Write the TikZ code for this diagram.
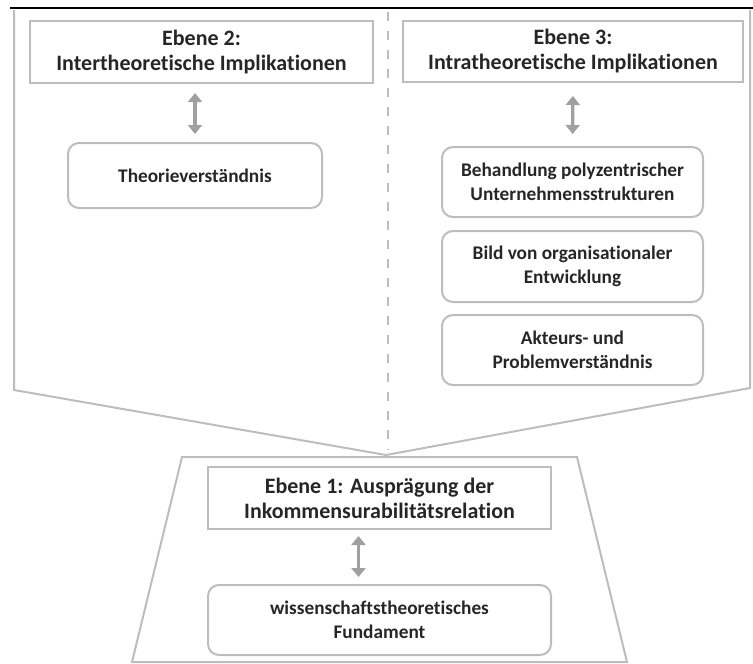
\documentclass[tikz,border=0pt]{standalone}
\usepackage{fontspec}
\setmainfont{Carlito}[Ligatures=CommonOff]
\usetikzlibrary{arrows.meta}
\definecolor{rahmen}{HTML}{BDBDBD}
\definecolor{schrift}{HTML}{262626}
\definecolor{pfeil}{HTML}{A0A0A0}
\tikzset{
  ebene/.style={draw=rahmen, line width=2pt, text=schrift, align=center, inner sep=0pt,
    font=\bfseries\fontsize{22}{25}\selectfont, minimum width=343pt, minimum height=62pt},
  thema/.style={draw=rahmen, line width=2pt, rounded corners=11pt, text=schrift, align=center, inner sep=0pt,
    font=\bfseries\fontsize{19.3}{23.5}\selectfont, minimum width=261pt, minimum height=70pt},
  wechsel/.style={draw=pfeil, line width=3.2pt, {Triangle[width=14pt,length=9pt]}-{Triangle[width=14pt,length=9pt]}},
  kontur/.style={draw=rahmen, line width=2pt}
}

\begin{document}
\begin{tikzpicture}[x=1pt,y=-1pt]
	\useasboundingbox (0,0) rectangle (753,664);
	% Linien
	\draw[black, line width=1.8pt] (10,8) -- (753,8);
	\draw[rahmen, line width=2pt, dash pattern=on 9pt off 10pt] (388,12) -- (388,450);
	\draw[kontur] (14,10) -- (14,390) -- (386,455) -- (750,388) -- (750,10);
	\draw[kontur] (182,457) -- (577,457) -- (627,662) -- (132,662) -- cycle;
	% Ebene 2
	\node[ebene] (ebzwei) at (201.5,52) {Ebene 2:\\Intertheoretische Implikationen};
	\node[thema, minimum width=254pt, minimum height=65pt] (theorie) at (195,175.5) {Theorieverständnis};
	\draw[wechsel, shorten <=9pt, shorten >=8pt] (ebzwei.south -| theorie.north) -- (theorie.north);
	% Ebene 3
	\node[ebene, minimum width=340pt, minimum height=61pt] (ebdrei) at (573,51.5) {Ebene 3:\\Intratheoretische Implikationen};
	\node[thema] (behandlung) at (572.5,182) {Behandlung polyzentrischer\\Unternehmensstrukturen};
	\node[thema, minimum height=71pt] (bild) at (572.5,266.5) {Bild von organisationaler\\Entwicklung};
	\node[thema] (akteure) at (572.5,350) {Akteurs- und\\Problemverständnis};
	\draw[wechsel, shorten <=13pt, shorten >=12pt] (ebdrei.south) -- (behandlung.north);
	% Ebene 1
	\node[ebene] (ebeins) at (379.5,498) {Ebene 1: Ausprägung der\\Inkommensurabilitätsrelation};
	\node[thema, minimum width=343pt] (fundament) at (379.5,620) {wissenschaftstheoretisches\\Fundament};
	\draw[wechsel, shorten <=6pt, shorten >=7pt] ([xshift=-21pt]ebeins.south) -- ([xshift=-21pt]fundament.north);
\end{tikzpicture}
\end{document}
